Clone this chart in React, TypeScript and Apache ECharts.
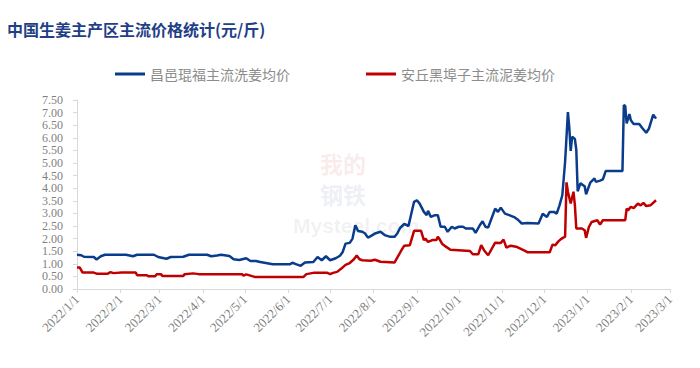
import React, { useEffect, useRef } from "react";
import * as echarts from "echarts";

const titleText = "中国生姜主产区主流价格统计(元/斤)";
const seriesNames = ["昌邑琨福主流洗姜均价", "安丘黑埠子主流泥姜均价"];
const axisStart = "2022/1/1";
const axisEnd = "2023/3/1";

const blueDates = [
  "2022/1/1", "2022/1/4", "2022/1/6", "2022/1/13", "2022/1/15", "2022/1/18", "2022/1/21", "2022/2/5",
  "2022/2/10", "2022/2/13", "2022/2/25", "2022/2/28", "2022/3/6", "2022/3/9", "2022/3/18", "2022/3/22",
  "2022/4/4", "2022/4/7", "2022/4/11", "2022/4/14", "2022/4/20", "2022/4/23", "2022/4/27", "2022/5/2",
  "2022/5/5", "2022/5/9", "2022/5/12", "2022/5/16", "2022/5/21", "2022/6/2", "2022/6/4", "2022/6/7",
  "2022/6/10", "2022/6/13", "2022/6/19", "2022/6/22", "2022/6/25", "2022/6/28", "2022/7/1", "2022/7/5",
  "2022/7/8", "2022/7/10", "2022/7/12", "2022/7/15", "2022/7/17", "2022/7/18", "2022/7/19", "2022/7/21",
  "2022/7/24", "2022/7/26", "2022/7/28", "2022/7/30", "2022/8/2", "2022/8/6", "2022/8/9", "2022/8/13",
  "2022/8/16", "2022/8/18", "2022/8/20", "2022/8/23", "2022/8/26", "2022/8/30", "2022/9/1", "2022/9/3",
  "2022/9/6", "2022/9/8", "2022/9/9", "2022/9/11", "2022/9/14", "2022/9/16", "2022/9/18", "2022/9/21",
  "2022/9/23", "2022/9/26", "2022/9/28", "2022/10/1", "2022/10/4", "2022/10/6", "2022/10/11", "2022/10/13",
  "2022/10/16", "2022/10/18", "2022/10/20", "2022/10/22", "2022/10/27", "2022/10/29", "2022/10/31", "2022/11/3",
  "2022/11/6", "2022/11/10", "2022/11/12", "2022/11/15", "2022/11/19", "2022/11/27", "2022/11/30", "2022/12/3",
  "2022/12/5", "2022/12/8", "2022/12/10", "2022/12/12", "2022/12/14", "2022/12/16", "2022/12/18", "2022/12/19",
  "2022/12/20", "2022/12/21", "2022/12/23", "2022/12/24", "2022/12/25", "2022/12/27", "2022/12/28", "2022/12/30",
  "2022/12/31", "2023/1/3", "2023/1/6", "2023/1/7", "2023/1/10", "2023/1/12", "2023/1/14", "2023/1/26",
  "2023/1/27", "2023/1/28", "2023/1/29", "2023/1/31", "2023/2/1", "2023/2/3", "2023/2/7", "2023/2/9",
  "2023/2/12", "2023/2/14", "2023/2/17", "2023/2/19",
];
const blueValues = [
  1.36, 1.34, 1.28, 1.27, 1.17, 1.30, 1.36, 1.36,
  1.30, 1.36, 1.36, 1.27, 1.20, 1.27, 1.28, 1.36,
  1.36, 1.30, 1.33, 1.36, 1.31, 1.18, 1.15, 1.22,
  1.11, 1.11, 1.07, 1.03, 0.98, 0.98, 1.04, 0.98,
  0.92, 1.05, 1.07, 1.27, 1.14, 1.30, 1.14, 1.22,
  1.32, 1.47, 1.80, 1.83, 2.00, 2.27, 2.53, 2.30,
  2.27, 2.20, 2.04, 2.10, 2.20, 2.27, 2.14, 2.07,
  2.07, 2.20, 2.42, 2.58, 2.50, 3.46, 3.52, 3.39,
  3.06, 2.93, 3.10, 2.86, 2.93, 2.93, 2.47, 2.47,
  2.27, 2.47, 2.40, 2.47, 2.47, 2.40, 2.40, 2.23,
  2.53, 2.69, 2.47, 2.44, 3.19, 3.06, 3.23, 2.99,
  2.93, 2.84, 2.76, 2.60, 2.62, 2.60, 2.99, 2.86,
  3.06, 3.06, 2.99, 3.32, 3.72, 5.05, 7.02, 6.40,
  5.48, 6.04, 5.95, 5.52, 3.88, 4.20, 4.15, 4.08,
  3.76, 4.22, 4.39, 4.25, 4.30, 4.35, 4.68, 4.68,
  7.30, 7.26, 6.57, 6.94, 6.70, 6.55, 6.55, 6.40,
  6.20, 6.37, 6.92, 6.76,
];

const redDates = [
  "2022/1/1", "2022/1/3", "2022/1/5", "2022/1/13", "2022/1/15", "2022/1/23", "2022/1/25", "2022/1/27",
  "2022/2/2", "2022/2/12", "2022/2/13", "2022/2/20", "2022/2/21", "2022/2/26", "2022/2/27", "2022/3/2",
  "2022/3/3", "2022/3/18", "2022/3/19", "2022/3/25", "2022/3/29", "2022/4/29", "2022/4/30", "2022/5/2",
  "2022/5/5", "2022/5/8", "2022/6/12", "2022/6/14", "2022/6/19", "2022/6/29", "2022/7/1", "2022/7/3",
  "2022/7/6", "2022/7/9", "2022/7/12", "2022/7/15", "2022/7/18", "2022/7/20", "2022/7/22", "2022/7/24",
  "2022/7/30", "2022/8/2", "2022/8/6", "2022/8/16", "2022/8/19", "2022/8/21", "2022/8/23", "2022/8/27",
  "2022/8/30", "2022/9/4", "2022/9/6", "2022/9/7", "2022/9/9", "2022/9/12", "2022/9/15", "2022/9/16",
  "2022/9/17", "2022/9/19", "2022/9/22", "2022/9/25", "2022/10/9", "2022/10/11", "2022/10/15", "2022/10/17",
  "2022/10/19", "2022/10/22", "2022/10/27", "2022/10/31", "2022/11/2", "2022/11/4", "2022/11/7", "2022/11/11",
  "2022/11/14", "2022/11/17", "2022/11/19", "2022/12/5", "2022/12/7", "2022/12/9", "2022/12/11", "2022/12/13",
  "2022/12/15", "2022/12/16", "2022/12/17", "2022/12/18", "2022/12/20", "2022/12/22", "2022/12/23", "2022/12/24",
  "2022/12/28", "2022/12/30", "2022/12/31", "2023/1/2", "2023/1/4", "2023/1/8", "2023/1/10", "2023/1/12",
  "2023/1/28", "2023/1/29", "2023/1/30", "2023/2/1", "2023/2/3", "2023/2/6", "2023/2/8", "2023/2/10",
  "2023/2/12", "2023/2/15", "2023/2/19",
];
const redValues = [
  0.85, 0.85, 0.65, 0.65, 0.61, 0.61, 0.67, 0.63,
  0.65, 0.65, 0.55, 0.55, 0.51, 0.51, 0.59, 0.59,
  0.52, 0.52, 0.59, 0.62, 0.59, 0.59, 0.53, 0.58,
  0.53, 0.48, 0.48, 0.59, 0.64, 0.64, 0.59, 0.64,
  0.68, 0.81, 0.96, 1.03, 1.18, 1.33, 1.18, 1.14,
  1.12, 1.16, 1.08, 1.05, 1.34, 1.54, 1.72, 1.74,
  2.31, 2.31, 1.94, 2.00, 1.87, 1.94, 1.94, 2.07,
  2.00, 1.80, 1.67, 1.56, 1.51, 1.38, 1.38, 1.74,
  1.54, 1.34, 1.84, 1.83, 1.96, 1.64, 1.72, 1.68,
  1.60, 1.52, 1.46, 1.46, 1.76, 1.74, 1.88, 1.98,
  2.05, 2.07, 4.23, 3.86, 3.39, 3.86, 3.32, 2.40,
  2.40, 2.33, 2.03, 2.46, 2.66, 2.73, 2.56, 2.73,
  2.73, 3.19, 3.12, 3.26, 3.21, 3.39, 3.32, 3.42,
  3.29, 3.32, 3.52,
];

const toTs = (s: string) => {
  const [y, m, d] = s.split("/").map(Number);
  return new Date(y, m - 1, d).getTime();
};
const fmtDate = (v: number) => {
  const d = new Date(v);
  return `${d.getFullYear()}/${d.getMonth() + 1}/${d.getDate()}`;
};

export default function App() {
  const ref = useRef<HTMLDivElement>(null);
  useEffect(() => {
    if (!ref.current) return;
    const chart = echarts.init(ref.current, null, { renderer: "svg" });
    const axisGray = "#d9d9d9";
    const labelGray = "#7f7f7f";
    chart.setOption({
      animation: false,
      backgroundColor: "#ffffff",
      title: {
        text: titleText,
        left: 2,
        top: 16,
        textStyle: {
          color: "#1f3f86",
          fontSize: 16,
          fontWeight: "bold",
          fontFamily: "Noto Sans CJK SC",
        },
      },
      legend: {
        left: 110,
        top: 62,
        itemGap: 76,
        itemWidth: 30,
        itemHeight: 3,
        icon: "rect",
        data: seriesNames,
        textStyle: { color: "#8c8c8c", fontSize: 14, fontFamily: "Noto Sans CJK SC" },
      },
      graphic: [
        {
          type: "text",
          left: 320,
          top: 150,
          z: -1,
          silent: true,
          style: { text: "我的", fill: "rgba(220,110,110,0.14)", fontSize: 23, lineHeight: 26, fontWeight: "bold", fontFamily: "Noto Sans CJK SC" },
        },
        {
          type: "text",
          left: 320,
          top: 181,
          z: -1,
          silent: true,
          style: { text: "钢铁", fill: "rgba(120,140,190,0.14)", fontSize: 23, lineHeight: 26, fontWeight: "bold", fontFamily: "Noto Sans CJK SC" },
        },
        {
          type: "text",
          left: 293,
          top: 214,
          z: -1,
          silent: true,
          style: { text: "Mysteel.com", fill: "rgba(150,150,150,0.12)", fontSize: 21, lineHeight: 22, fontWeight: "bold", fontFamily: "Liberation Sans" },
        },
      ],
      grid: { left: 77, right: 30, top: 100, bottom: 79, containLabel: false },
      xAxis: {
        type: "time",
        min: toTs(axisStart),
        max: toTs(axisEnd),
        splitNumber: 14,
        axisLine: { show: true, lineStyle: { color: axisGray, width: 1 } },
        axisTick: { show: true, length: 4, lineStyle: { color: axisGray } },
        splitLine: { show: false },
        axisLabel: {
          rotate: 45,
          color: labelGray,
          fontSize: 13,
          fontFamily: "Liberation Serif",
          margin: 8,
          hideOverlap: false,
          showMinLabel: true,
          showMaxLabel: true,
          formatter: (v: number) => fmtDate(v),
        },
      },
      yAxis: {
        type: "value",
        min: 0,
        max: 7.5,
        interval: 0.5,
        axisLine: { show: true, lineStyle: { color: axisGray, width: 1 } },
        axisTick: { show: true, length: 4, lineStyle: { color: axisGray } },
        splitLine: { show: false },
        axisLabel: {
          color: labelGray,
          fontSize: 12,
          lineHeight: 12,
          fontFamily: "Liberation Serif",
          margin: 14,
          showMinLabel: true,
          showMaxLabel: true,
          hideOverlap: false,
          formatter: (v: number) => v.toFixed(2),
        },
      },
      series: [
        {
          name: seriesNames[0],
          type: "line",
          symbol: "none",
          color: "#0a3c8c",
          lineStyle: { width: 2.5, color: "#0a3c8c" },
          data: blueDates.map((d, i) => [toTs(d), blueValues[i]]),
        },
        {
          name: seriesNames[1],
          type: "line",
          symbol: "none",
          color: "#c00000",
          lineStyle: { width: 2.5, color: "#c00000" },
          data: redDates.map((d, i) => [toTs(d), redValues[i]]),
        },
      ],
    });
    return () => chart.dispose();
  }, []);
  return (
    <div
      ref={ref}
      style={{ position: "absolute", left: 0, top: 0, width: 700, height: 368 }}
    />
  );
}
